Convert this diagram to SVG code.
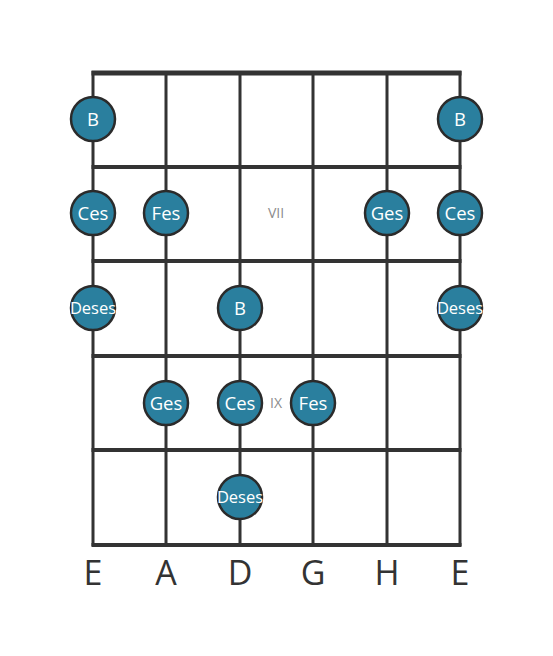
<svg xmlns="http://www.w3.org/2000/svg" width="553" height="656" viewBox="0 0 553 656">
<style>
.str{stroke:#333;stroke-width:3}
.fret{stroke:#333;stroke-width:4}
.note circle{fill:#2a7f9e;stroke:#2b2b2b;stroke-width:2.5}
.note text{fill:#fff;font-family:"Open Sans",sans-serif;font-size:18.5px;text-anchor:middle}
.note text.s{font-size:16.5px}
.pos{fill:#8c8c8c;font-family:"Open Sans",sans-serif;font-size:14px;text-anchor:middle}
.sl{fill:#333;font-family:"Open Sans",sans-serif;font-size:34px;text-anchor:middle}
</style>
<rect width="553" height="656" fill="#fff"/>
<g id="board">
<line class="str" x1="93" y1="71" x2="93" y2="546"/>
<line class="str" x1="166" y1="71" x2="166" y2="546"/>
<line class="str" x1="240" y1="71" x2="240" y2="546"/>
<line class="str" x1="313" y1="71" x2="313" y2="546"/>
<line class="str" x1="387" y1="71" x2="387" y2="546"/>
<line class="str" x1="460" y1="71" x2="460" y2="546"/>
<line class="fret" x1="91.5" y1="73" x2="461.5" y2="73" style="stroke-width:5"/>
<line class="fret" x1="91.5" y1="167" x2="461.5" y2="167"/>
<line class="fret" x1="91.5" y1="261" x2="461.5" y2="261"/>
<line class="fret" x1="91.5" y1="356" x2="461.5" y2="356"/>
<line class="fret" x1="91.5" y1="450" x2="461.5" y2="450"/>
<line class="fret" x1="91.5" y1="545" x2="461.5" y2="545"/>
</g>
<g id="positions">
<text class="pos" x="276" y="218">VII</text>
<text class="pos" x="276" y="408">IX</text>
</g>
<g id="n1" class="note"><circle cx="93" cy="119" r="22"/><text x="93" y="125.5">B</text></g>
<g id="n2" class="note"><circle cx="460" cy="119" r="22"/><text x="460" y="125.5">B</text></g>
<g id="n3" class="note"><circle cx="93" cy="213" r="22"/><text x="93" y="219.5">Ces</text></g>
<g id="n4" class="note"><circle cx="166" cy="213" r="22"/><text x="166" y="219.5">Fes</text></g>
<g id="n5" class="note"><circle cx="387" cy="213" r="22"/><text x="387" y="219.5">Ges</text></g>
<g id="n6" class="note"><circle cx="460" cy="213" r="22"/><text x="460" y="219.5">Ces</text></g>
<g id="n7" class="note"><circle cx="93" cy="308" r="22"/><text class="s" x="93" y="314">Deses</text></g>
<g id="n8" class="note"><circle cx="240" cy="308" r="22"/><text x="240" y="314.5">B</text></g>
<g id="n9" class="note"><circle cx="460" cy="308" r="22"/><text class="s" x="460" y="314">Deses</text></g>
<g id="n10" class="note"><circle cx="166" cy="403" r="22"/><text x="166" y="409.5">Ges</text></g>
<g id="n11" class="note"><circle cx="240" cy="403" r="22"/><text x="240" y="409.5">Ces</text></g>
<g id="n12" class="note"><circle cx="313" cy="403" r="22"/><text x="313" y="409.5">Fes</text></g>
<g id="n13" class="note"><circle cx="240" cy="497" r="22"/><text class="s" x="240" y="503">Deses</text></g>
<g id="strings">
<text class="sl" x="93" y="585">E</text>
<text class="sl" x="166" y="585">A</text>
<text class="sl" x="240" y="585">D</text>
<text class="sl" x="313" y="585">G</text>
<text class="sl" x="387" y="585">H</text>
<text class="sl" x="460" y="585">E</text>
</g>
</svg>
